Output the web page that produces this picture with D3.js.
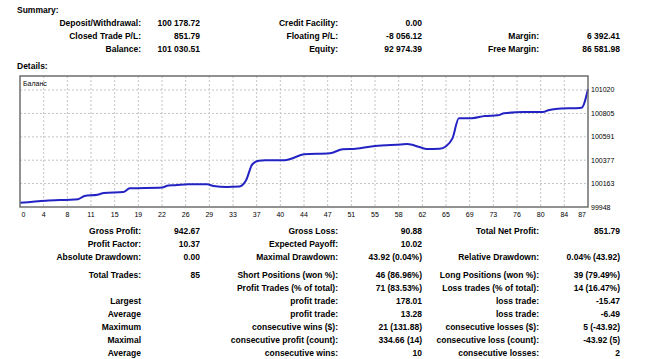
<!DOCTYPE html>
<html>
<head>
<meta charset="utf-8">
<script src="https://cdn.jsdelivr.net/npm/d3@7"></script>
<style>
	body { margin: 0; background: #fff; }
	svg { display: block; font-family: "Liberation Sans", Arial, sans-serif; }
</style>
</head>
<body>
<svg id="report" width="650" height="359"></svg>
<script>

// summary block, one row per line: label, value, label, value, label, value
const summary_rows = [
	["Deposit/Withdrawal:", "100 178.72", "Credit Facility:", "0.00", "", ""],
	["Closed Trade P/L:", "851.79", "Floating P/L:", "-8 056.12", "Margin:", "6 392.41"],
	["Balance:", "101 030.51", "Equity:", "92 974.39", "Free Margin:", "86 581.98"]
];

// details block (row 3 is followed by a small gap)
const detail_rows = [
	["Gross Profit:", "942.67", "Gross Loss:", "90.88", "Total Net Profit:", "851.79"],
	["Profit Factor:", "10.37", "Expected Payoff:", "10.02", "", ""],
	["Absolute Drawdown:", "0.00", "Maximal Drawdown:", "43.92 (0.04%)", "Relative Drawdown:", "0.04% (43.92)"],
	["Total Trades:", "85", "Short Positions (won %):", "46 (86.96%)", "Long Positions (won %):", "39 (79.49%)"],
	["", "", "Profit Trades (% of total):", "71 (83.53%)", "Loss trades (% of total):", "14 (16.47%)"],
	["Largest", "", "profit trade:", "178.01", "loss trade:", "-15.47"],
	["Average", "", "profit trade:", "13.28", "loss trade:", "-6.49"],
	["Maximum", "", "consecutive wins ($):", "21 (131.88)", "consecutive losses ($):", "5 (-43.92)"],
	["Maximal", "", "consecutive profit (count):", "334.66 (14)", "consecutive loss (count):", "-43.92 (5)"],
	["Average", "", "consecutive wins:", "10", "consecutive losses:", "2"]
];

// balance curve (trade number, balance)
const trade_no = [0, 4, 9, 10, 12, 13, 16, 17, 22, 23, 24, 26, 29, 30, 32, 34, 35, 36, 37, 38,
	41, 42, 44, 48, 50, 52, 55, 59, 60, 62, 63, 65, 66, 67, 68, 70, 72, 74, 75, 78,
	81, 82, 83, 87, 88];
const balance = [99987, 100006, 100020, 100049, 100061, 100076, 100085, 100119, 100127, 100145,
	100147, 100156, 100156, 100140, 100131, 100135, 100190, 100340, 100372, 100376,
	100376, 100390, 100431, 100440, 100477, 100482, 100507, 100521, 100525, 100495,
	100480, 100482, 100505, 100577, 100761, 100761, 100782, 100788, 100806, 100818,
	100818, 100837, 100846, 100858, 101030];

const x_tick_labels = ["0", "4", "8", "11", "15", "19", "22", "26", "29", "33", "37", "40", "44",
	"47", "51", "55", "58", "62", "65", "69", "73", "76", "80", "84", "87"];
const y_tick_values = [99948, 100163, 100377, 100591, 100805, 101020];
const chart_title = "Баланс";

const svg = d3.select("#report");

// column geometry: right edges of labels / values
const col_label_end = [141, 338, 539];
const col_value_end = [200, 422, 620];

function drawTable(rows, first_baseline, step, gap_after) {
	rows.forEach((row, i) => {
		const y = first_baseline + i * step + (gap_after !== null && i > gap_after ? 4.7 : 0);
		for (let c = 0; c < 3; c++) {
			const label = row[2 * c], value = row[2 * c + 1];
			if (label) {
				svg.append("text")
					.attr("x", col_label_end[c]).attr("y", y)
					.attr("text-anchor", "end")
					.style("font-size", "8.5px").style("font-weight", "bold")
					.text(label);
			}
			if (value) {
				svg.append("text")
					.attr("x", col_value_end[c]).attr("y", y)
					.attr("text-anchor", "end")
					.style("font-size", "8.5px").style("font-weight", "bold")
					.text(value);
			}
		}
	});
}

// headings
svg.append("text").attr("x", 17).attr("y", 13)
	.style("font-size", "8.5px").style("font-weight", "bold").text("Summary:");
svg.append("text").attr("x", 17).attr("y", 69)
	.style("font-size", "8.5px").style("font-weight", "bold").text("Details:");

drawTable(summary_rows, 26.2, 13, null);
drawTable(detail_rows, 234.2, 13.05, 2);

// ---- balance chart
const plot = { left: 20, top: 76, right: 588, bottom: 207 };

const x = d3.scaleLinear()
	.domain([0, 88])
	.range([plot.left, plot.right]);

const y = d3.scaleLinear()
	.domain([99948, 99948 + (plot.bottom - plot.top) * 9.162])
	.range([plot.bottom, plot.top]);

const x_ticks = d3.scalePoint()
	.domain(x_tick_labels)
	.range([plot.left, plot.right]);

const chart = svg.append("g");

// grid
chart.selectAll("line.hgrid")
	.data(y_tick_values.slice(1))
	.enter().append("line")
	.attr("x1", plot.left).attr("x2", plot.right)
	.attr("y1", d => y(d)).attr("y2", d => y(d))
	.attr("stroke", "#c4c4c4").attr("stroke-width", 1)
	.attr("stroke-dasharray", "2,2");

chart.selectAll("line.vgrid")
	.data(x_tick_labels.slice(1, -1))
	.enter().append("line")
	.attr("x1", d => x_ticks(d)).attr("x2", d => x_ticks(d))
	.attr("y1", plot.top).attr("y2", plot.bottom)
	.attr("stroke", "#c4c4c4").attr("stroke-width", 1)
	.attr("stroke-dasharray", "2,2");

// balance line
const line = d3.line()
	.x((d, i) => x(trade_no[i]))
	.y(d => y(d))
	.curve(d3.curveMonotoneX);

chart.append("path")
	.datum(balance)
	.attr("d", line)
	.attr("fill", "none")
	.attr("stroke", "#2323c4")
	.attr("stroke-width", 2)
	.attr("stroke-linejoin", "round");

// frame
chart.append("rect")
	.attr("x", plot.left).attr("y", plot.top)
	.attr("width", plot.right - plot.left).attr("height", plot.bottom - plot.top)
	.attr("fill", "none").attr("stroke", "#6e6e6e").attr("stroke-width", 1.5);

chart.append("text")
	.attr("x", plot.left + 3).attr("y", plot.top + 10)
	.style("font-size", "7px")
	.text(chart_title);

// axis labels
chart.selectAll("text.xlab")
	.data(x_tick_labels)
	.enter().append("text")
	.attr("x", (d, i) => i === 0 ? plot.left + 1.5 : (i === x_tick_labels.length - 1 ? plot.right - 2 : x_ticks(d)))
	.attr("y", 216.5)
	.attr("text-anchor", (d, i) => i === 0 ? "start" : (i === x_tick_labels.length - 1 ? "end" : "middle"))
	.style("font-size", "7px")
	.text(d => d);

chart.selectAll("text.ylab")
	.data(y_tick_values)
	.enter().append("text")
	.attr("x", plot.right + 3)
	.attr("y", d => y(d) + 2.5)
	.style("font-size", "7px")
	.text(d => d);

</script>
</body>
</html>
